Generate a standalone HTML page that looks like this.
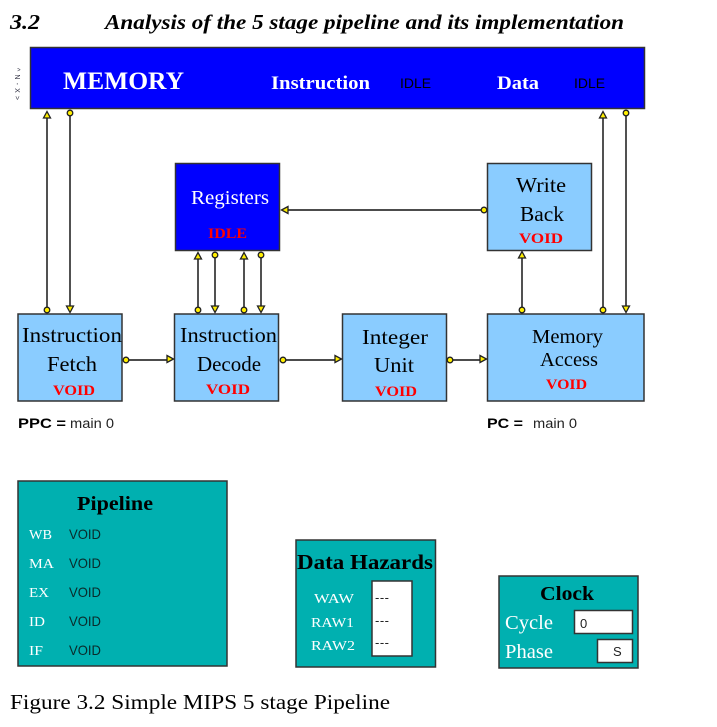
<!DOCTYPE html>
<html><head><meta charset="utf-8"><style>
html,body{margin:0;padding:0;background:#fff}
svg{display:block}
text{font-family:"Liberation Serif",serif}
.a{font-family:"Liberation Sans",sans-serif}
</style></head><body>
<svg width="717" height="727" viewBox="0 0 717 727" xmlns="http://www.w3.org/2000/svg">
<defs>
<g id="c"><circle r="2.8" fill="#ffee00" stroke="#222" stroke-width="1.3"/></g>
<g id="u"><path d="M0 -3.500L3.500 3H-3.500Z" fill="#ffee00" stroke="#222" stroke-width="1.3"/></g>
</defs>
<g font-weight="bold" font-style="italic" font-size="21" fill="#000">
<text x="10" y="29" textLength="30" lengthAdjust="spacingAndGlyphs">3.2</text>
<text x="105" y="29" textLength="519" lengthAdjust="spacingAndGlyphs">Analysis of the 5 stage pipeline and its implementation</text>
</g>
<text transform="translate(15,68) rotate(90)" font-size="7" fill="#334" class="a" textLength="32">^ N - X &gt;</text>

<g stroke="#333" stroke-width="1.5">
<rect x="30.5" y="47.5" width="614" height="61" fill="#0000ff"/>
<rect x="175.5" y="163.5" width="104" height="87" fill="#0000ff"/>
<g fill="#8accff">
<rect x="487.5" y="163.5" width="104" height="87"/>
<rect x="18" y="314" width="104" height="87"/>
<rect x="174.5" y="314" width="104" height="87"/>
<rect x="342.5" y="314" width="104" height="87"/>
<rect x="487.5" y="314" width="156.500" height="87"/>
</g>
<g fill="#00b0b0">
<rect x="18" y="481" width="209" height="185"/>
<rect x="296" y="540" width="139.500" height="127"/>
<rect x="499" y="576" width="139" height="92"/>
</g>
<g fill="#fff">
<rect x="372" y="581" width="40" height="75"/>
<rect x="574.500" y="610.500" width="58" height="23"/>
<rect x="597.500" y="639.500" width="35" height="23"/>
</g>
</g>

<g stroke="#333" stroke-width="1.7" fill="none">
<path d="M47 116V310M70 113V308M198 258V310M215 255V308M244 258V310M261 255V308M522 258V310M603 116V310M626 113V308"/>
<path d="M126 360H170M283 360H338M450 360H483M484 210H287"/>
</g>
<use href="#u" x="47" y="115"/><use href="#c" x="47" y="310"/>
<use href="#c" x="70" y="113"/><use href="#u" transform="translate(70,309) rotate(180)"/>
<use href="#u" x="198" y="256"/><use href="#c" x="198" y="310"/>
<use href="#c" x="215" y="255"/><use href="#u" transform="translate(215,309) rotate(180)"/>
<use href="#u" x="244" y="256"/><use href="#c" x="244" y="310"/>
<use href="#c" x="261" y="255"/><use href="#u" transform="translate(261,309) rotate(180)"/>
<use href="#u" x="522" y="255"/><use href="#c" x="522" y="310"/>
<use href="#u" x="603" y="115"/><use href="#c" x="603" y="310"/>
<use href="#c" x="626" y="113"/><use href="#u" transform="translate(626,309) rotate(180)"/>
<use href="#c" x="126" y="360"/><use href="#u" transform="translate(170,359) rotate(90)"/>
<use href="#c" x="283" y="360"/><use href="#u" transform="translate(338,359) rotate(90)"/>
<use href="#c" x="450" y="360"/><use href="#u" transform="translate(483,359) rotate(90)"/>
<use href="#c" x="484" y="210"/><use href="#u" transform="translate(285,210) rotate(-90)"/>

<g fill="#fff" font-weight="bold">
<text x="63" y="89" font-size="25" textLength="121" lengthAdjust="spacingAndGlyphs">MEMORY</text>
<text x="271" y="89" font-size="19" textLength="99" lengthAdjust="spacingAndGlyphs">Instruction</text>
<text x="497" y="89" font-size="19" textLength="42" lengthAdjust="spacingAndGlyphs">Data</text>
</g>
<g class="a" fill="#000" font-size="14">
<text class="a" x="400" y="88" textLength="31" lengthAdjust="spacingAndGlyphs">IDLE</text>
<text class="a" x="574" y="88" textLength="31" lengthAdjust="spacingAndGlyphs">IDLE</text>
</g>

<text x="191" y="204" font-size="20" fill="#fff" textLength="78" lengthAdjust="spacingAndGlyphs">Registers</text>
<text x="208" y="238" font-size="15" font-weight="bold" fill="#f00" textLength="39" lengthAdjust="spacingAndGlyphs">IDLE</text>

<g font-size="21.500" fill="#000">
<text x="516" y="192" textLength="50" lengthAdjust="spacingAndGlyphs">Write</text>
<text x="520" y="221" textLength="44" lengthAdjust="spacingAndGlyphs">Back</text>
<text x="22" y="342" textLength="100" lengthAdjust="spacingAndGlyphs">Instruction</text>
<text x="47" y="371" textLength="50" lengthAdjust="spacingAndGlyphs">Fetch</text>
<text x="180" y="342" textLength="97" lengthAdjust="spacingAndGlyphs">Instruction</text>
<text x="197" y="371" textLength="64" lengthAdjust="spacingAndGlyphs">Decode</text>
<text x="362" y="344" textLength="66" lengthAdjust="spacingAndGlyphs">Integer</text>
<text x="374" y="372" textLength="40" lengthAdjust="spacingAndGlyphs">Unit</text>
<text x="532" y="343" textLength="71" lengthAdjust="spacingAndGlyphs" font-size="20">Memory</text>
<text x="540" y="366" textLength="58" lengthAdjust="spacingAndGlyphs" font-size="20">Access</text>
</g>
<g font-size="15" font-weight="bold" fill="#f00">
<text x="519" y="243" textLength="44" lengthAdjust="spacingAndGlyphs">VOID</text>
<text x="53" y="395" textLength="42" lengthAdjust="spacingAndGlyphs">VOID</text>
<text x="206" y="394" textLength="44" lengthAdjust="spacingAndGlyphs">VOID</text>
<text x="375" y="396" textLength="42" lengthAdjust="spacingAndGlyphs">VOID</text>
<text x="546" y="389" textLength="41" lengthAdjust="spacingAndGlyphs">VOID</text>
</g>

<text class="a" x="18" y="428" font-size="14" font-weight="bold" textLength="48" lengthAdjust="spacingAndGlyphs">PPC =</text>
<text class="a" x="70" y="428" font-size="13.500" fill="#222" textLength="44" lengthAdjust="spacingAndGlyphs">main 0</text>
<text class="a" x="487" y="428" font-size="14" font-weight="bold" textLength="36" lengthAdjust="spacingAndGlyphs">PC =</text>
<text class="a" x="533" y="428" font-size="13.500" fill="#222" textLength="44" lengthAdjust="spacingAndGlyphs">main 0</text>

<text x="77" y="510" font-size="20" font-weight="bold" textLength="76" lengthAdjust="spacingAndGlyphs">Pipeline</text>
<g font-size="14" fill="#fff">
<text x="29" y="539" textLength="23" lengthAdjust="spacingAndGlyphs">WB</text>
<text x="29" y="568" textLength="25" lengthAdjust="spacingAndGlyphs">MA</text>
<text x="29" y="597" textLength="20" lengthAdjust="spacingAndGlyphs">EX</text>
<text x="29" y="626" textLength="16" lengthAdjust="spacingAndGlyphs">ID</text>
<text x="29" y="655" textLength="14" lengthAdjust="spacingAndGlyphs">IF</text>
</g>
<g font-size="14" fill="#0a2a2a">
<text class="a" x="69" y="539" textLength="32" lengthAdjust="spacingAndGlyphs">VOID</text>
<text class="a" x="69" y="568" textLength="32" lengthAdjust="spacingAndGlyphs">VOID</text>
<text class="a" x="69" y="597" textLength="32" lengthAdjust="spacingAndGlyphs">VOID</text>
<text class="a" x="69" y="626" textLength="32" lengthAdjust="spacingAndGlyphs">VOID</text>
<text class="a" x="69" y="655" textLength="32" lengthAdjust="spacingAndGlyphs">VOID</text>
</g>

<text x="297" y="569" font-size="21" font-weight="bold" textLength="136" lengthAdjust="spacingAndGlyphs">Data Hazards</text>
<g font-size="14" fill="#fff">
<text x="314" y="603" textLength="40" lengthAdjust="spacingAndGlyphs">WAW</text>
<text x="311" y="627" textLength="43" lengthAdjust="spacingAndGlyphs">RAW1</text>
<text x="311" y="650" textLength="44" lengthAdjust="spacingAndGlyphs">RAW2</text>
</g>
<g font-size="13" fill="#222">
<text class="a" x="375" y="602" textLength="14">---</text>
<text class="a" x="375" y="625" textLength="14">---</text>
<text class="a" x="375" y="647" textLength="14">---</text>
</g>

<text x="540" y="600" font-size="20" font-weight="bold" textLength="54" lengthAdjust="spacingAndGlyphs">Clock</text>
<text x="505" y="629" font-size="20" fill="#fff" textLength="48" lengthAdjust="spacingAndGlyphs">Cycle</text>
<text x="505" y="658" font-size="20" fill="#fff" textLength="48" lengthAdjust="spacingAndGlyphs">Phase</text>
<text class="a" x="580" y="628" font-size="13" fill="#222">0</text>
<text class="a" x="613" y="656" font-size="13" fill="#222">S</text>

<text x="10" y="709" font-size="21" fill="#000" textLength="380" lengthAdjust="spacingAndGlyphs">Figure 3.2 Simple MIPS 5 stage Pipeline</text>
</svg>
</body></html>
